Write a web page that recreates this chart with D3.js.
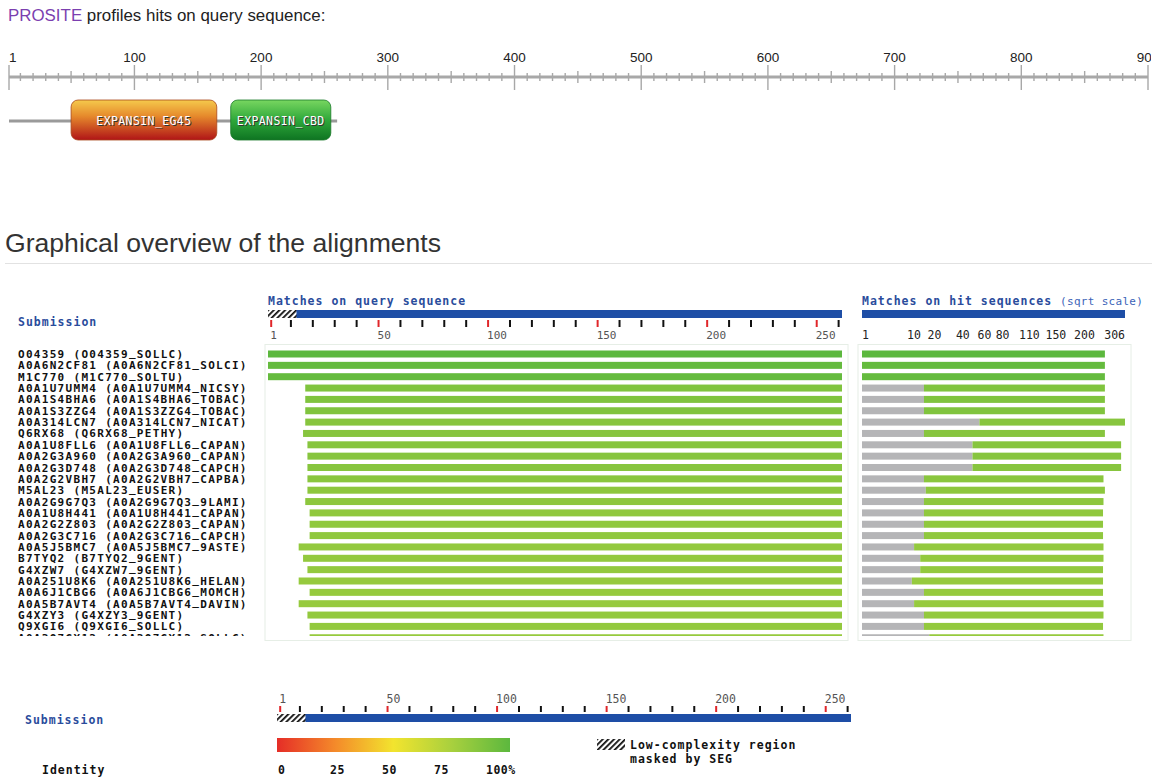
<!DOCTYPE html>
<html>
<head>
<meta charset="utf-8">
<title>PROSITE hits and graphical overview of the alignments</title>
<script src="https://d3js.org/d3.v7.min.js"></script>
<style>
  body { margin: 0; background: #fff; }
  svg { display: block; }
  .sans { font-family: Arial, "Liberation Sans", sans-serif; }
  .mono { font-family: "DejaVu Sans Mono", "Liberation Mono", monospace; font-weight: bold; }
  .thin { font-weight: normal; }
</style>
</head>
<body>
<div id="chart"></div>
<script>
const width = 1163, height = 778;

// PROSITE part
const seqTicks = [1, 100, 200, 300, 400, 500, 600, 700, 800, 900];
const seqLength = 260;
const domainNames = ["EXPANSIN_EG45", "EXPANSIN_CBD"];
const domainStart = [50, 176];
const domainEnd = [165, 255];

// BLAST hits
const hitLabels = [
  "O04359 (O04359_SOLLC)",
  "A0A6N2CF81 (A0A6N2CF81_SOLCI)",
  "M1C770 (M1C770_SOLTU)",
  "A0A1U7UMM4 (A0A1U7UMM4_NICSY)",
  "A0A1S4BHA6 (A0A1S4BHA6_TOBAC)",
  "A0A1S3ZZG4 (A0A1S3ZZG4_TOBAC)",
  "A0A314LCN7 (A0A314LCN7_NICAT)",
  "Q6RX68 (Q6RX68_PETHY)",
  "A0A1U8FLL6 (A0A1U8FLL6_CAPAN)",
  "A0A2G3A960 (A0A2G3A960_CAPAN)",
  "A0A2G3D748 (A0A2G3D748_CAPCH)",
  "A0A2G2VBH7 (A0A2G2VBH7_CAPBA)",
  "M5AL23 (M5AL23_EUSER)",
  "A0A2G9G7Q3 (A0A2G9G7Q3_9LAMI)",
  "A0A1U8H441 (A0A1U8H441_CAPAN)",
  "A0A2G2Z803 (A0A2G2Z803_CAPAN)",
  "A0A2G3C716 (A0A2G3C716_CAPCH)",
  "A0A5J5BMC7 (A0A5J5BMC7_9ASTE)",
  "B7TYQ2 (B7TYQ2_9GENT)",
  "G4XZW7 (G4XZW7_9GENT)",
  "A0A251U8K6 (A0A251U8K6_HELAN)",
  "A0A6J1CBG6 (A0A6J1CBG6_MOMCH)",
  "A0A5B7AVT4 (A0A5B7AVT4_DAVIN)",
  "G4XZY3 (G4XZY3_9GENT)",
  "Q9XGI6 (Q9XGI6_SOLLC)",
  "A0A3Q7GX12 (A0A3Q7GX12_SOLLC)"
];
const queryStart = [1, 1, 1, 18, 18, 18, 18, 17, 19, 19, 19, 19, 19, 18, 20, 20, 20, 15, 17, 19, 15, 20, 15, 19, 20, 20];
const queryEnd   = [262, 262, 262, 262, 262, 262, 262, 262, 262, 262, 262, 262, 262, 262, 262, 262, 262, 262, 262, 262, 262, 262, 262, 262, 262, 262];
const hitStart   = [0, 0, 0, 17, 17, 17, 61, 17, 54, 54, 54, 17, 18, 17, 17, 17, 17, 12, 15, 15, 11, 17, 12, 17, 17, 20];
const hitLength  = [261, 261, 261, 261, 261, 261, 306, 261, 297, 297, 297, 258, 261, 258, 257, 257, 257, 258, 258, 257, 257, 257, 258, 258, 257, 258];
const identity   = [100, 97, 97, 88, 88, 88, 86, 86, 86, 86, 86, 85, 84, 84, 83, 83, 83, 82, 82, 82, 81, 81, 81, 82, 82, 81];

const queryLength = 262;
const lowComplexity = [0, 13];
const queryTicks = d3.range(0, 261, 10).map(d => d || 1);
const queryLabels = [1, 50, 100, 150, 200, 250];
const hitTicks = [1, 10, 20, 40, 60, 80, 110, 150, 200, 306];
const identityTicks = [0, 25, 50, 75, 100];
const identityColors = ["#e52d27", "#f48a2a", "#f2e42e", "#a8d03e", "#5cb83e"];

const svg = d3.select("#chart").append("svg")
  .attr("width", width).attr("height", height);
const defs = svg.append("defs");

// hatch for SEG masked region
const hatch = defs.append("pattern")
  .attr("id", "hatch").attr("patternUnits", "userSpaceOnUse")
  .attr("width", 4).attr("height", 4)
  .attr("patternTransform", "rotate(45)");
hatch.append("rect").attr("width", 4).attr("height", 4).attr("fill", "#fff");
hatch.append("rect").attr("width", 1.8).attr("height", 4).attr("fill", "#111");

const gRed = defs.append("linearGradient").attr("id", "gEG45")
  .attr("x1", 0).attr("y1", 0).attr("x2", 0).attr("y2", 1);
gRed.append("stop").attr("offset", "0%").attr("stop-color", "#f5ca4c");
gRed.append("stop").attr("offset", "40%").attr("stop-color", "#e68a2c");
gRed.append("stop").attr("offset", "100%").attr("stop-color", "#b01417");

const gGreen = defs.append("linearGradient").attr("id", "gCBD")
  .attr("x1", 0).attr("y1", 0).attr("x2", 0).attr("y2", 1);
gGreen.append("stop").attr("offset", "0%").attr("stop-color", "#78d660");
gGreen.append("stop").attr("offset", "50%").attr("stop-color", "#2fa83a");
gGreen.append("stop").attr("offset", "100%").attr("stop-color", "#0e7422");

const gId = defs.append("linearGradient").attr("id", "gIdentity");
identityTicks.forEach((t, i) => {
  gId.append("stop").attr("offset", t + "%").attr("stop-color", identityColors[i]);
});

defs.append("clipPath").attr("id", "rulerClip")
  .append("rect").attr("x", 0).attr("y", 0).attr("width", 1151).attr("height", 200);
defs.append("clipPath").attr("id", "rowsClip")
  .append("rect").attr("x", 0).attr("y", 346).attr("width", width).attr("height", 290);

// ---------- PROSITE header ----------
const head = svg.append("text").attr("class", "sans")
  .attr("x", 8).attr("y", 21).attr("font-size", 16.9);
head.append("tspan").attr("fill", "#7b3fb0").text("PROSITE");
head.append("tspan").attr("fill", "#222").text(" profiles hits on query sequence:");

const sx = d3.scaleLinear().domain([1, 900]).range([9, 1148]);
const ruler = svg.append("g").attr("clip-path", "url(#rulerClip)");
const rulerY = 77;
ruler.append("line")
  .attr("x1", sx(1)).attr("x2", sx(900))
  .attr("y1", rulerY).attr("y2", rulerY)
  .attr("stroke", "#a8a8a8").attr("stroke-width", 3);
ruler.selectAll(".minor").data(d3.range(10, 901, 10).concat([1]))
  .join("line")
  .attr("x1", d => sx(d)).attr("x2", d => sx(d))
  .attr("y1", d => d === 1 || d % 100 === 0 ? rulerY - 12 : d % 50 === 0 ? rulerY - 6 : rulerY - 4)
  .attr("y2", d => d === 1 || d % 100 === 0 ? rulerY + 13 : d % 50 === 0 ? rulerY + 6 : rulerY + 4)
  .attr("stroke", "#a8a8a8").attr("stroke-width", 1.4);
ruler.selectAll(".lab").data(seqTicks).join("text")
  .attr("class", "sans")
  .attr("x", d => sx(d)).attr("y", rulerY - 15)
  .attr("text-anchor", d => d === 1 ? "start" : "middle")
  .attr("font-size", 13.5).attr("fill", "#222")
  .text(d => d);

const domY = 121;
svg.append("line")
  .attr("x1", sx(1)).attr("x2", sx(seqLength))
  .attr("y1", domY).attr("y2", domY)
  .attr("stroke", "#9a9a9a").attr("stroke-width", 3);
const dom = svg.selectAll(".dom").data(domainNames).join("g");
dom.append("rect")
  .attr("x", (d, i) => sx(domainStart[i]))
  .attr("width", (d, i) => sx(domainEnd[i]) - sx(domainStart[i]))
  .attr("y", domY - 21).attr("height", 40).attr("rx", 7)
  .attr("fill", (d, i) => i === 0 ? "url(#gEG45)" : "url(#gCBD)")
  .attr("stroke", (d, i) => i === 0 ? "#a8481a" : "#1b7a2a").attr("stroke-width", 0.8);
dom.append("text").attr("class", "mono thin")
  .attr("x", (d, i) => (sx(domainStart[i]) + sx(domainEnd[i])) / 2 + 1)
  .attr("y", domY + 4 + 1)
  .attr("text-anchor", "middle").attr("font-size", 11.5).attr("letter-spacing", 0.4)
  .attr("fill", "#333").text(d => d);
dom.append("text").attr("class", "mono thin")
  .attr("x", (d, i) => (sx(domainStart[i]) + sx(domainEnd[i])) / 2)
  .attr("y", domY + 4)
  .attr("text-anchor", "middle").attr("font-size", 11.5).attr("letter-spacing", 0.4)
  .attr("fill", "#fff").text(d => d);

// ---------- Graphical overview ----------
svg.append("text").attr("class", "sans")
  .attr("x", 5).attr("y", 252).attr("font-size", 26.6).attr("fill", "#333")
  .text("Graphical overview of the alignments");
svg.append("line")
  .attr("x1", 5).attr("x2", 1152).attr("y1", 263.5).attr("y2", 263.5)
  .attr("stroke", "#e2e2e2");

const blue = "#1e4ea6";
const titleBlue = "#2a4c9c";

svg.append("text").attr("class", "mono")
  .attr("x", 18).attr("y", 326).attr("font-size", 11.5).attr("letter-spacing", 1)
  .attr("fill", titleBlue).text("Submission");

// query panel
const qx = d3.scaleLinear().domain([0, queryLength]).range([268, 842]);
const barTop = 310, barH = 8;
svg.append("text").attr("class", "mono")
  .attr("x", 268).attr("y", 305).attr("font-size", 11.5).attr("letter-spacing", 1)
  .attr("fill", titleBlue).text("Matches on query sequence");
svg.append("rect")
  .attr("x", qx(0)).attr("width", qx(queryLength) - qx(0))
  .attr("y", barTop).attr("height", barH).attr("fill", blue);
svg.append("rect")
  .attr("x", qx(lowComplexity[0])).attr("width", qx(lowComplexity[1]) - qx(lowComplexity[0]))
  .attr("y", barTop).attr("height", barH).attr("fill", "url(#hatch)");
svg.selectAll(".qtick").data(queryTicks).join("line")
  .attr("x1", d => qx(d) + 1).attr("x2", d => qx(d) + 1)
  .attr("y1", barTop + barH + 2).attr("y2", barTop + barH + 9)
  .attr("stroke", d => queryLabels.includes(d) ? "#e0262a" : "#111")
  .attr("stroke-width", 2);
svg.selectAll(".qlab").data(queryLabels).join("text")
  .attr("class", "mono thin")
  .attr("x", d => qx(d)).attr("y", barTop + barH + 21)
  .attr("font-size", 11).attr("fill", "#555")
  .text(d => d);

// hit panel (sqrt scale)
const hitMax = d3.max(hitTicks);
const hx = d3.scaleSqrt().domain([0, hitMax]).range([862, 1125]);
const hitTitle = svg.append("text").attr("class", "mono")
  .attr("x", 862).attr("y", 305).attr("font-size", 11.5).attr("letter-spacing", 1)
  .attr("fill", titleBlue);
hitTitle.append("tspan").text("Matches on hit sequences ");
hitTitle.append("tspan").attr("class", "thin").attr("font-size", 11)
  .attr("letter-spacing", 0.3).attr("fill", "#3b63b8").text("(sqrt scale)");
svg.append("rect")
  .attr("x", hx(0)).attr("width", hx(hitMax) - hx(0))
  .attr("y", barTop).attr("height", barH).attr("fill", blue);
svg.selectAll(".hlab").data(hitTicks).join("text")
  .attr("class", "mono thin")
  .attr("x", d => hx(d === hitMax ? d : d - 1))
  .attr("text-anchor", d => d === hitMax ? "end" : "start")
  .attr("y", barTop + barH + 21)
  .attr("font-size", 11.5).attr("fill", "#222")
  .text(d => d);

// panel frames
[[265, 848], [858, 1131]].forEach(([a, b]) => {
  svg.append("rect").attr("x", a).attr("y", 344.5).attr("width", b - a).attr("height", 296)
    .attr("fill", "none").attr("stroke", "#e6eee6");
});

// rows
const idColor = d3.scaleLinear().domain(identityTicks).range(identityColors);
const rowY = d3.scaleLinear().domain([0, 1]).range([350.5, 361.85]);
const rows = svg.append("g").attr("clip-path", "url(#rowsClip)")
  .selectAll("g").data(hitLabels).join("g");

// underscores lifted a bit so they don't sit on top of the next row
const lab = rows.append("text").attr("class", "mono")
  .attr("x", 18).attr("y", (d, i) => rowY(i) + 7.5)
  .attr("font-size", 11).attr("letter-spacing", 1.3).attr("fill", "#111");
lab.each(function(d) {
  const t = d3.select(this);
  d.split("_").forEach((part, k) => {
    if (k > 0) {
      t.append("tspan").attr("dy", -2.5).text("_");
      t.append("tspan").attr("dy", 2.5).text(part);
    } else {
      t.append("tspan").text(part);
    }
  });
});
rows.append("rect")
  .attr("x", (d, i) => qx(queryStart[i] - 1))
  .attr("width", (d, i) => qx(queryEnd[i]) - qx(queryStart[i] - 1))
  .attr("y", (d, i) => rowY(i)).attr("height", 7)
  .attr("fill", (d, i) => idColor(identity[i]));
rows.append("rect")
  .attr("x", hx(0))
  .attr("width", (d, i) => hx(hitStart[i]) - hx(0))
  .attr("y", (d, i) => rowY(i)).attr("height", 7)
  .attr("fill", "#b5b5b7");
rows.append("rect")
  .attr("x", (d, i) => hx(hitStart[i]))
  .attr("width", (d, i) => hx(hitLength[i]) - hx(hitStart[i]))
  .attr("y", (d, i) => rowY(i)).attr("height", 7)
  .attr("fill", (d, i) => idColor(identity[i]));

// ---------- legend ----------
const bx = d3.scaleLinear().domain([0, queryLength]).range([277, 851]);
const lbTop = 714;
svg.append("text").attr("class", "mono")
  .attr("x", 25).attr("y", 724).attr("font-size", 11.5).attr("letter-spacing", 1)
  .attr("fill", titleBlue).text("Submission");
svg.append("rect")
  .attr("x", bx(0)).attr("width", bx(queryLength) - bx(0))
  .attr("y", lbTop).attr("height", barH).attr("fill", blue);
svg.append("rect")
  .attr("x", bx(lowComplexity[0])).attr("width", bx(lowComplexity[1]) - bx(lowComplexity[0]))
  .attr("y", lbTop).attr("height", barH).attr("fill", "url(#hatch)");
svg.selectAll(".btick").data(queryTicks).join("line")
  .attr("x1", d => bx(d) + 1).attr("x2", d => bx(d) + 1)
  .attr("y1", lbTop - 8).attr("y2", lbTop - 2)
  .attr("stroke", d => queryLabels.includes(d) ? "#e0262a" : "#111")
  .attr("stroke-width", 2);
svg.selectAll(".blab").data(queryLabels).join("text")
  .attr("class", "mono thin")
  .attr("x", d => bx(d)).attr("y", lbTop - 11)
  .attr("font-size", 11.5).attr("fill", "#555")
  .text(d => d);

const gx = d3.scaleLinear().domain([0, 100]).range([277, 510]);
svg.append("rect")
  .attr("x", gx(0)).attr("width", gx(100) - gx(0))
  .attr("y", 738).attr("height", 14).attr("fill", "url(#gIdentity)");
svg.append("text").attr("class", "mono")
  .attr("x", 42).attr("y", 774).attr("font-size", 11.5).attr("letter-spacing", 1)
  .attr("fill", "#111").text("Identity");
const labX = d3.scaleLinear().domain([0, 100]).range([278, 486]);
svg.selectAll(".ilab").data(identityTicks).join("text")
  .attr("class", "mono")
  .attr("x", d => labX(d)).attr("y", 774)
  .attr("font-size", 11.5).attr("letter-spacing", 0.5).attr("fill", "#111")
  .text(d => d === 100 ? "100%" : d);

svg.append("rect").attr("x", 597).attr("y", 739).attr("width", 28).attr("height", 11)
  .attr("fill", "url(#hatch)");
svg.append("text").attr("class", "mono")
  .attr("x", 630).attr("y", 749).attr("font-size", 11.5).attr("letter-spacing", 1)
  .attr("fill", "#111").text("Low-complexity region");
svg.append("text").attr("class", "mono")
  .attr("x", 630).attr("y", 763).attr("font-size", 11.5).attr("letter-spacing", 1)
  .attr("fill", "#111").text("masked by SEG");
</script>
</body>
</html>
